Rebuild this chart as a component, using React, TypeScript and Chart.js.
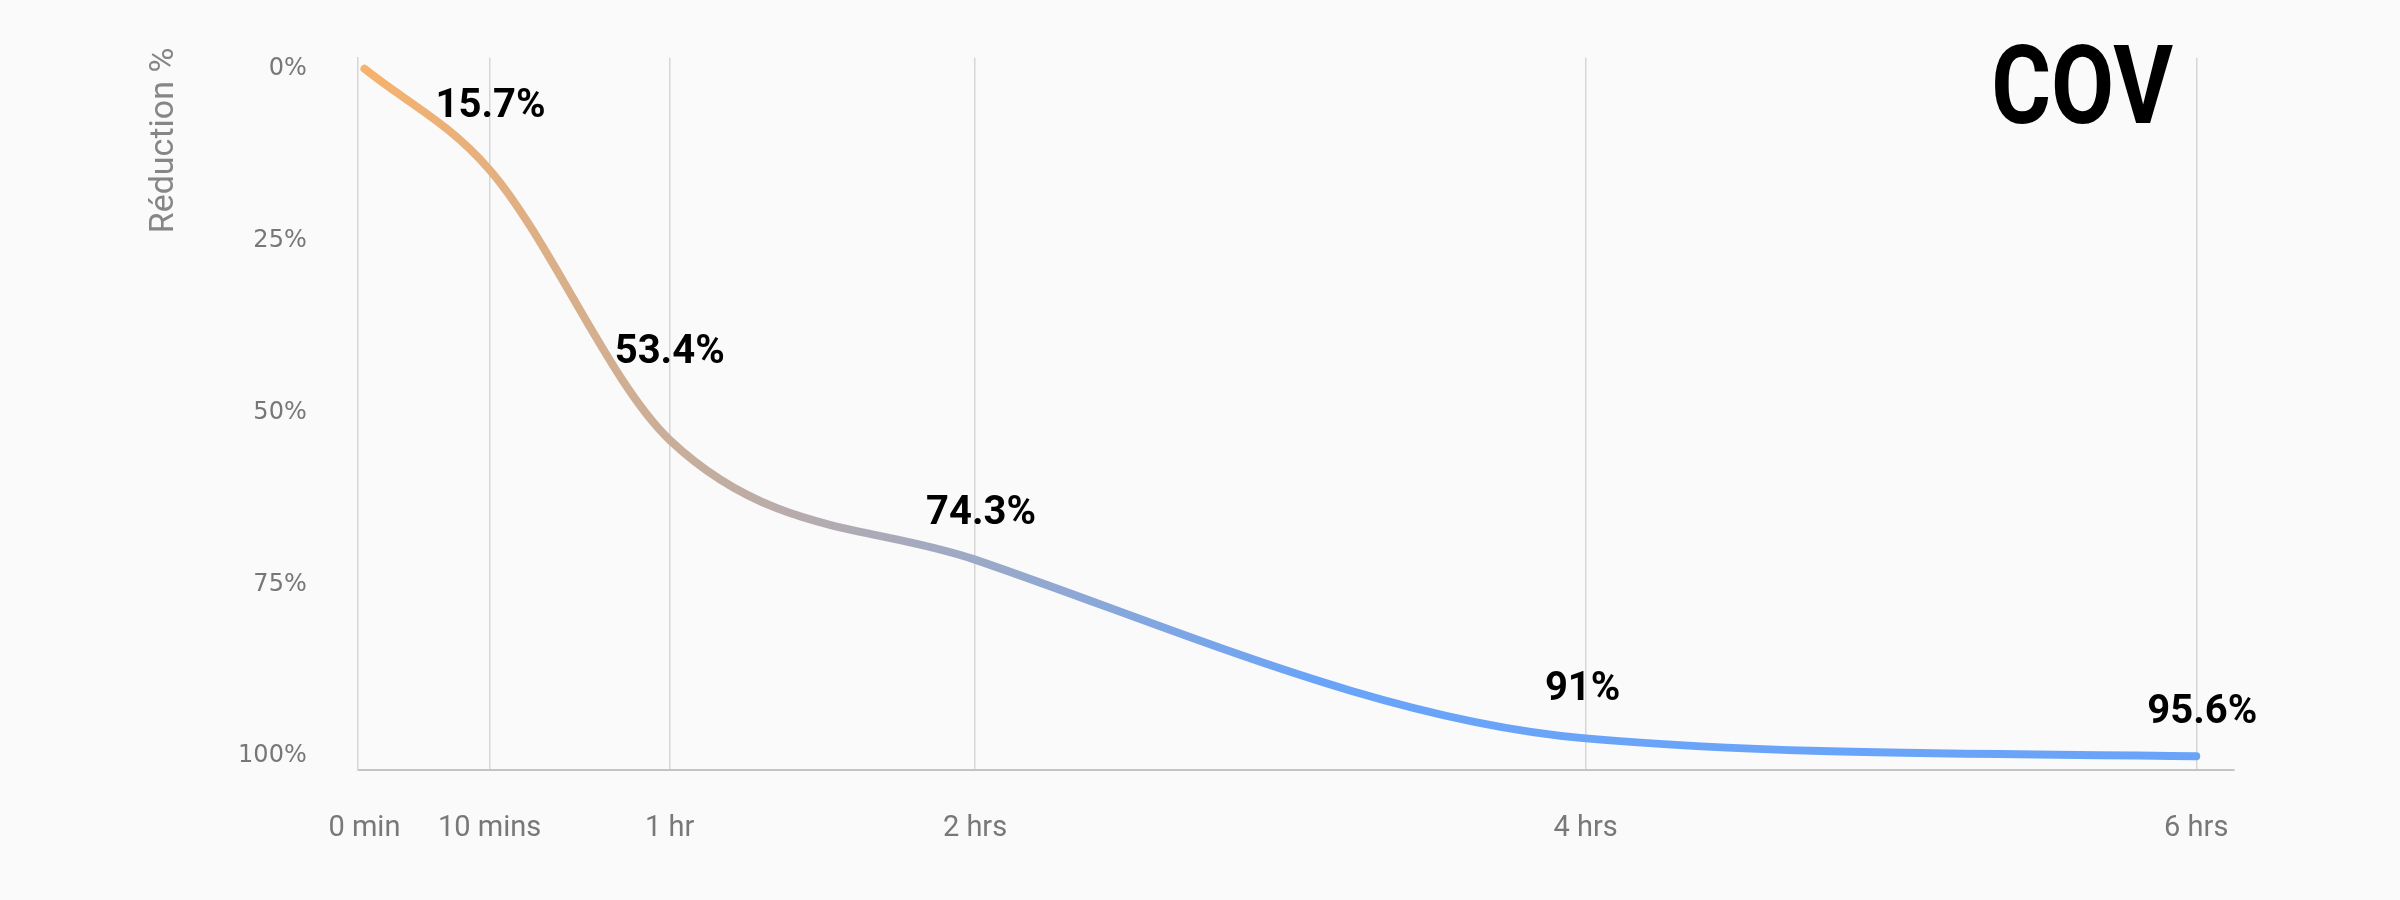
import React, { useEffect, useRef } from 'react';
import { Chart, registerables } from 'chart.js';

Chart.register(...registerables);

// ---- data ----
const X_POSITIONS = [0, 0.41, 1, 2, 4, 6];
const X_TICK_LABELS = ['0 min', '10 mins', '1 hr', '2 hrs', '4 hrs', '6 hrs'];
const REDUCTION_VALUES = [0, 14.7, 54.0, 71.4, 97.4, 100];
const POINT_LABELS = ['', '15.7%', '53.4%', '74.3%', '91%', '95.6%'];
const Y_TICKS = [0, 25, 50, 75, 100];
const CHART_TITLE = 'COV';
const Y_TITLE = 'Réduction %';

// ---- styles ----
const LABEL_OFFSETS: [number, number][] = [
  [0, 0],
  [1, -53],
  [0, -77],
  [6, -36],
  [-3, -38],
  [6, -33],
];

const textPlugin = {
  id: 'textPlugin',
  afterDatasetsDraw(chart: any) {
    const ctx = chart.ctx as CanvasRenderingContext2D;
    const area = chart.chartArea;
    const meta = chart.getDatasetMeta(0);
    ctx.save();
    // point labels
    ctx.fillStyle = '#000000';
    ctx.font = 'bold 40px Roboto, "DejaVu Sans", sans-serif';
    ctx.textAlign = 'center';
    ctx.textBaseline = 'alphabetic';
    meta.data.forEach((pt: any, i: number) => {
      const t = POINT_LABELS[i];
      if (!t) return;
      const [dx, dy] = LABEL_OFFSETS[i];
      ctx.fillText(t, pt.x + dx, pt.y + dy);
    });
    // big title
    ctx.save();
    ctx.translate(area.right - 60.5, area.top + 65);
    ctx.scale(0.84, 1);
    ctx.font = 'bold 109px Roboto, "DejaVu Sans", sans-serif';
    ctx.textAlign = 'right';
    ctx.fillText(CHART_TITLE, 0, 0);
    ctx.restore();
    // y axis title
    ctx.save();
    ctx.translate(area.left - 193, area.top - 10);
    ctx.rotate(-Math.PI / 2);
    ctx.font = '34px Roboto, "DejaVu Sans", sans-serif';
    ctx.fillStyle = '#868686';
    ctx.textAlign = 'right';
    ctx.textBaseline = 'middle';
    ctx.fillText(Y_TITLE, 0, 0);
    ctx.restore();
    ctx.restore();
  },
};

export default function App() {
  const ref = useRef<HTMLCanvasElement | null>(null);

  useEffect(() => {
    document.body.style.margin = '0';
    document.body.style.background = '#fafafa';
    const canvas = ref.current;
    if (!canvas) return;

    const gradient = (c: any) => {
      const chart = c.chart;
      const area = chart.chartArea;
      if (!area || !chart.scales.x) return '#b0a8c0';
      const xs = chart.scales.x;
      const g = chart.ctx.createLinearGradient(xs.getPixelForValue(0), 0, xs.getPixelForValue(3.1), 0);
      g.addColorStop(0, '#F7B26C');
      g.addColorStop(1, '#6AA4F8');
      return g;
    };

    const chart = new Chart(canvas, {
      type: 'line',
      data: {
        datasets: [
          {
            data: X_POSITIONS.map((x, i) => ({ x, y: REDUCTION_VALUES[i] })),
            borderColor: gradient,
            borderWidth: 8,
            borderCapStyle: 'round',
            borderJoinStyle: 'round',
            pointRadius: 0,
            pointHoverRadius: 0,
            cubicInterpolationMode: 'monotone',
            fill: false,
          },
        ],
      },
      options: {
        responsive: false,
        animation: false,
        layout: { padding: { top: 57.7, right: 166.5, left: 0, bottom: 0 } },
        plugins: {
          legend: { display: false },
          tooltip: { enabled: false },
          title: { display: false },
        },
        scales: {
          x: {
            type: 'linear',
            min: -0.022,
            max: 6.122,
            afterBuildTicks: (s: any) => {
              s.ticks = X_POSITIONS.map((v) => ({ value: v }));
            },
            afterFit: (s: any) => {
              s.height = 130;
            },
            ticks: {
              autoSkip: false,
              maxRotation: 0,
              padding: 41,
              color: '#787878',
              font: { family: 'Roboto', size: 29 },
              callback: (_v: any, i: number) => X_TICK_LABELS[i],
            },
            grid: {
              color: (c: any) => (c.tick && c.tick.value === 0 ? 'rgba(0,0,0,0)' : '#d6d6d6'),
              lineWidth: 1.5,
              drawTicks: false,
            },
            border: { display: true, color: '#c4c4c4', width: 2 },
          },
          y: {
            type: 'linear',
            reverse: true,
            min: -1.6,
            max: 102,
            afterBuildTicks: (s: any) => {
              s.ticks = Y_TICKS.map((v) => ({ value: v }));
            },
            afterFit: (s: any) => {
              s.width = 357.7;
              s.paddingTop = 0;
              s.paddingBottom = 0;
            },
            ticks: {
              padding: 51,
              color: '#777777',
              font: { family: 'DejaVu Sans', size: 24 },
              callback: (v: any) => v + '%',
            },
            grid: { display: false, drawTicks: false },
            border: { display: true, color: '#d6d6d6', width: 1.5 },
          },
        },
      },
      plugins: [textPlugin],
    } as any);

    return () => chart.destroy();
  }, []);

  return (
    <div style={{ position: 'fixed', left: 0, top: 0, width: 2400, height: 900, background: '#fafafa' }}>
      <canvas ref={ref} width={2400} height={900} style={{ width: 2400, height: 900, display: 'block' }} />
    </div>
  );
}
